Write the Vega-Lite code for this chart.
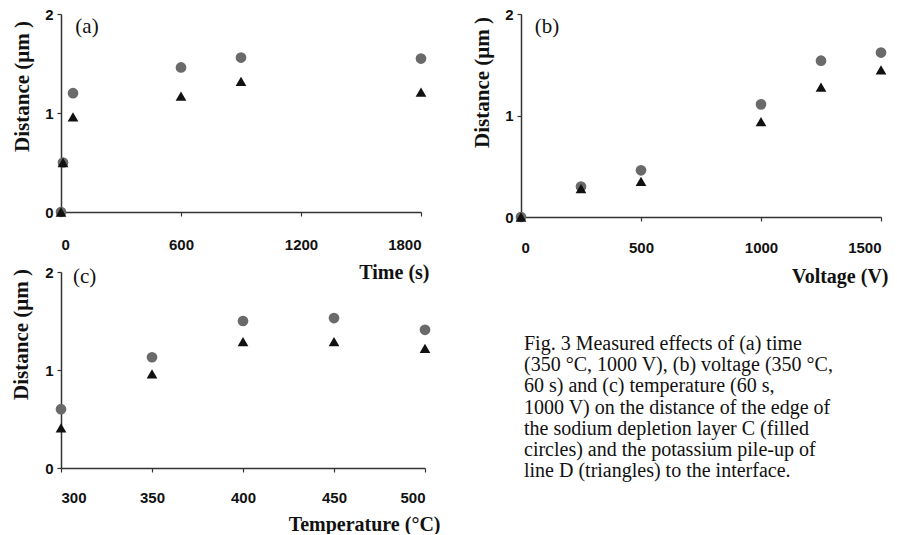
{
  "$schema": "https://vega.github.io/schema/vega-lite/v6.json",
  "background": "white",
  "padding": {"left": 9, "top": 7, "right": 0, "bottom": 0},
  "columns": 2,
  "bounds": "flush",
  "spacing": {"column": 96, "row": 55},
  "datasets": {
    "time": [
      {"t": 0, "series": "C", "d": 0},
      {"t": 10, "series": "C", "d": 0.5},
      {"t": 60, "series": "C", "d": 1.2},
      {"t": 600, "series": "C", "d": 1.46},
      {"t": 900, "series": "C", "d": 1.56},
      {"t": 1800, "series": "C", "d": 1.55},
      {"t": 0, "series": "D", "d": 0},
      {"t": 10, "series": "D", "d": 0.5},
      {"t": 60, "series": "D", "d": 0.96},
      {"t": 600, "series": "D", "d": 1.17},
      {"t": 900, "series": "D", "d": 1.32},
      {"t": 1800, "series": "D", "d": 1.21}
    ],
    "voltage": [
      {"v": 0, "series": "C", "d": 0},
      {"v": 250, "series": "C", "d": 0.3},
      {"v": 500, "series": "C", "d": 0.46},
      {"v": 1000, "series": "C", "d": 1.11},
      {"v": 1250, "series": "C", "d": 1.54},
      {"v": 1500, "series": "C", "d": 1.62},
      {"v": 0, "series": "D", "d": 0},
      {"v": 250, "series": "D", "d": 0.28},
      {"v": 500, "series": "D", "d": 0.35},
      {"v": 1000, "series": "D", "d": 0.94},
      {"v": 1250, "series": "D", "d": 1.28},
      {"v": 1500, "series": "D", "d": 1.45}
    ],
    "temp": [
      {"T": 300, "series": "C", "d": 0.6},
      {"T": 350, "series": "C", "d": 1.13},
      {"T": 400, "series": "C", "d": 1.5},
      {"T": 450, "series": "C", "d": 1.53},
      {"T": 500, "series": "C", "d": 1.41},
      {"T": 300, "series": "D", "d": 0.41},
      {"T": 350, "series": "D", "d": 0.96},
      {"T": 400, "series": "D", "d": 1.29},
      {"T": 450, "series": "D", "d": 1.29},
      {"T": 500, "series": "D", "d": 1.22}
    ],
    "caption": [
      {"line": 1, "text": "Fig. 3 Measured effects of (a) time"},
      {"line": 2, "text": "(350 °C, 1000 V), (b) voltage (350 °C,"},
      {"line": 3, "text": "60 s) and (c) temperature (60 s,"},
      {"line": 4, "text": "1000 V) on the distance of the edge of"},
      {"line": 5, "text": "the sodium depletion layer C (filled"},
      {"line": 6, "text": "circles) and the potassium pile-up of"},
      {"line": 7, "text": "line D (triangles) to the interface."}
    ]
  },
  "concat": [
    {
      "width": 360,
      "height": 198,
      "layer": [
        {
          "data": {"name": "time"},
          "mark": {"type": "point", "filled": true, "opacity": 1, "size": 115},
          "encoding": {
            "x": {"field": "t", "type": "quantitative",
              "scale": {"domain": [0, 1800], "nice": false},
              "axis": {"values": [0, 600, 1200, 1800], "format": "d", "title": "Time (s)", "titleX": 368, "titleY": 60, "titleAlign": "right", "titleBaseline": "middle", "labelPadding": 21}},
            "y": {"field": "d", "type": "quantitative",
              "scale": {"domain": [0, 2], "nice": false},
              "axis": {"values": [0, 1, 2], "format": ".0f", "title": "Distance (μm )", "titleFontSize": 21, "titleX": -39, "titleY": 72, "titleAlign": "center", "titleBaseline": "middle"}},
            "shape": {"field": "series", "type": "nominal", "scale": {"domain": ["C", "D"], "range": ["circle", "triangle-up"]}, "legend": null},
            "color": {"field": "series", "type": "nominal", "scale": {"domain": ["C", "D"], "range": ["#6a6a6a", "#111111"]}, "legend": null}
          }
        },
        {
          "data": {"values": [{"label": "(a)"}]},
          "mark": {"type": "text", "font": "Liberation Serif", "fontSize": 21, "align": "center", "baseline": "middle", "color": "#111"},
          "encoding": {"x": {"datum": 130, "type": "quantitative"}, "y": {"datum": 1.87, "type": "quantitative"}, "text": {"field": "label"}}
        }
      ]
    },
    {
      "width": 360,
      "height": 203,
      "layer": [
        {
          "data": {"name": "voltage"},
          "mark": {"type": "point", "filled": true, "opacity": 1, "size": 115},
          "encoding": {
            "x": {"field": "v", "type": "quantitative",
              "scale": {"domain": [0, 1500], "nice": false},
              "axis": {"values": [0, 500, 1000, 1500], "format": "d", "title": "Voltage (V)", "titleX": 367, "titleY": 59, "titleAlign": "right", "titleBaseline": "middle", "labelPadding": 19}},
            "y": {"field": "d", "type": "quantitative",
              "scale": {"domain": [0, 2], "nice": false},
              "axis": {"values": [0, 1, 2], "format": ".0f", "title": "Distance (μm )", "titleFontSize": 21, "titleX": -39, "titleY": 68, "titleAlign": "center", "titleBaseline": "middle"}},
            "shape": {"field": "series", "type": "nominal", "scale": {"domain": ["C", "D"], "range": ["circle", "triangle-up"]}, "legend": null},
            "color": {"field": "series", "type": "nominal", "scale": {"domain": ["C", "D"], "range": ["#6a6a6a", "#111111"]}, "legend": null}
          }
        },
        {
          "data": {"values": [{"label": "(b)"}]},
          "mark": {"type": "text", "font": "Liberation Serif", "fontSize": 21, "align": "center", "baseline": "middle", "color": "#111"},
          "encoding": {"x": {"datum": 108, "type": "quantitative"}, "y": {"datum": 1.87, "type": "quantitative"}, "text": {"field": "label"}}
        }
      ]
    },
    {
      "width": 364,
      "height": 196,
      "layer": [
        {
          "data": {"name": "temp"},
          "mark": {"type": "point", "filled": true, "opacity": 1, "size": 115},
          "encoding": {
            "x": {"field": "T", "type": "quantitative",
              "scale": {"domain": [300, 500], "nice": false, "zero": false},
              "axis": {"values": [300, 350, 400, 450, 500], "format": "d", "title": "Temperature (°C)", "titleX": 379, "titleY": 56, "titleAlign": "right", "titleBaseline": "middle", "labelPadding": 18}},
            "y": {"field": "d", "type": "quantitative",
              "scale": {"domain": [0, 2], "nice": false},
              "axis": {"values": [0, 1, 2], "format": ".0f", "title": "Distance (μm )", "titleFontSize": 21, "titleX": -40, "titleY": 62, "titleAlign": "center", "titleBaseline": "middle"}},
            "shape": {"field": "series", "type": "nominal", "scale": {"domain": ["C", "D"], "range": ["circle", "triangle-up"]}, "legend": null},
            "color": {"field": "series", "type": "nominal", "scale": {"domain": ["C", "D"], "range": ["#6a6a6a", "#111111"]}, "legend": null}
          }
        },
        {
          "data": {"values": [{"label": "(c)"}]},
          "mark": {"type": "text", "font": "Liberation Serif", "fontSize": 21, "align": "center", "baseline": "middle", "color": "#111"},
          "encoding": {"x": {"datum": 313, "type": "quantitative"}, "y": {"datum": 1.95, "type": "quantitative"}, "text": {"field": "label"}}
        }
      ]
    },
    {
      "width": 360,
      "height": 196,
      "data": {"name": "caption"},
      "mark": {"type": "text", "font": "Liberation Serif", "fontSize": 20, "align": "left", "baseline": "alphabetic", "color": "#111", "dx": 3},
      "encoding": {
        "x": {"datum": 0, "type": "quantitative", "scale": {"domain": [0, 1]}, "axis": null},
        "y": {"field": "line", "type": "quantitative", "scale": {"domain": [-2.679, 6.566], "reverse": true, "nice": false, "zero": false}, "axis": null},
        "text": {"field": "text"}
      }
    }
  ],
  "config": {
    "view": {"stroke": null},
    "font": "Liberation Sans",
    "axis": {
      "grid": false,
      "domainColor": "#333333",
      "domainWidth": 1.5,
      "tickColor": "#333333",
      "tickWidth": 1.2,
      "tickSize": 4,
      "labelFont": "Liberation Sans",
      "labelFontWeight": "bold",
      "labelFontSize": 15,
      "labelColor": "#111111",
      "labelPadding": 4,
      "titleFont": "Liberation Serif",
      "titleFontWeight": "bold",
      "titleFontSize": 20,
      "titleColor": "#111111"
    }
  }
}
